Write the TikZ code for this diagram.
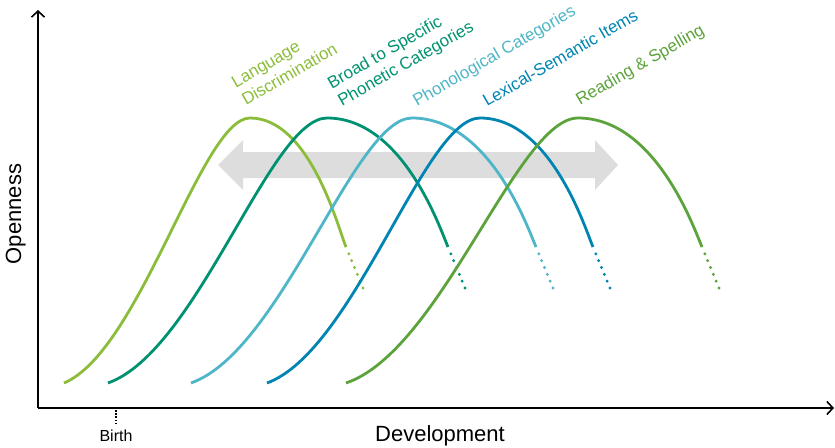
\documentclass[tikz,border=0pt]{standalone}
\usepackage{fontspec}
\setmainfont{Liberation Sans}
\usepackage{tikz}
\usetikzlibrary{arrows.meta,positioning}

\definecolor{langgreen}{RGB}{140,189,58}
\definecolor{phongreen}{RGB}{0,146,112}
\definecolor{phonblue}{RGB}{78,182,200}
\definecolor{lexblue}{RGB}{0,132,178}
\definecolor{readgreen}{RGB}{92,163,60}
\definecolor{arrowgray}{RGB}{221,221,221}

\begin{document}
\begin{tikzpicture}[x=1pt,y=-1pt,
        axis/.style={line width=1.6pt,-{Straight Barb[length=6pt,width=13pt]}},
        curve/.style={line width=2.8pt},
        stage/.style={rotate=30,anchor=south west,align=left,inner sep=0pt,text depth=0pt,
            font=\fontsize{17}{20.4}\selectfont}]
        \useasboundingbox (0,0) rectangle (835,447);
        % axes
        \coordinate (origin) at (38,408);
        \coordinate (ytop) at (38,10);
        \coordinate (xend) at (834,408);
        \draw[axis] (origin) -- (ytop);
        \draw[axis] (origin) -- (xend);
        \coordinate (birthtop) at (116,410);
        \coordinate (birthend) at (116,424);
        \draw[line width=1.6pt,dash pattern=on 1.6pt off 1.6pt] (birthtop) -- (birthend);
        \node[anchor=base,inner sep=0pt,font=\fontsize{16}{19}\selectfont] (birth) at (116,441) {Birth};
        \node[anchor=base,inner sep=0pt,font=\fontsize{22}{26}\selectfont] (devel) at (440,441) {Development};
        \node[anchor=base,rotate=90,inner sep=0pt,font=\fontsize{22}{26}\selectfont] (open) at (21,214) {Openness};
        % gray double arrow behind the curves
        \fill[arrowgray] (218,165) -- (243,140) -- (243,152) -- (595,152) -- (595,140) -- (618,165)
            -- (595,190) -- (595,178) -- (243,178) -- (243,190) -- cycle;
        % curves: start / peak / end of solid part, then a row of dots
        \foreach \xs/\xp/\xe/\col in {64/250/346/langgreen,108/327/448/phongreen,191/412/536/phonblue,
                267/480/593/lexblue,346/578/702/readgreen}
        {
            \draw[curve,\col] (\xs,383) .. controls ({\xs+0.41*(\xp-\xs)},351) and ({\xp-0.26*(\xp-\xs)},118) .. (\xp,118)
                .. controls ({\xp+0.63*(\xe-\xp)},118) and ({\xe-7},231) .. (\xe,247);
            \foreach \k in {1,...,6}
                \fill[\col] ({\xe+17*\k/6},{247+41*\k/6}) circle (1.6pt);
        }
        % labels
        \node[stage,langgreen] (lang) at (246,106) {Language\\Discrimination};
        \node[stage,phongreen] (broad) at (342,107) {Broad to Specific\\Phonetic Categories};
        \node[stage,phonblue] (phon) at (417,107) {Phonological Categories};
        \node[stage,lexblue] (lex) at (487,107) {Lexical-Semantic Items};
        \node[stage,readgreen] (read) at (580,106) {Reading \& Spelling};
\end{tikzpicture}
\end{document}
